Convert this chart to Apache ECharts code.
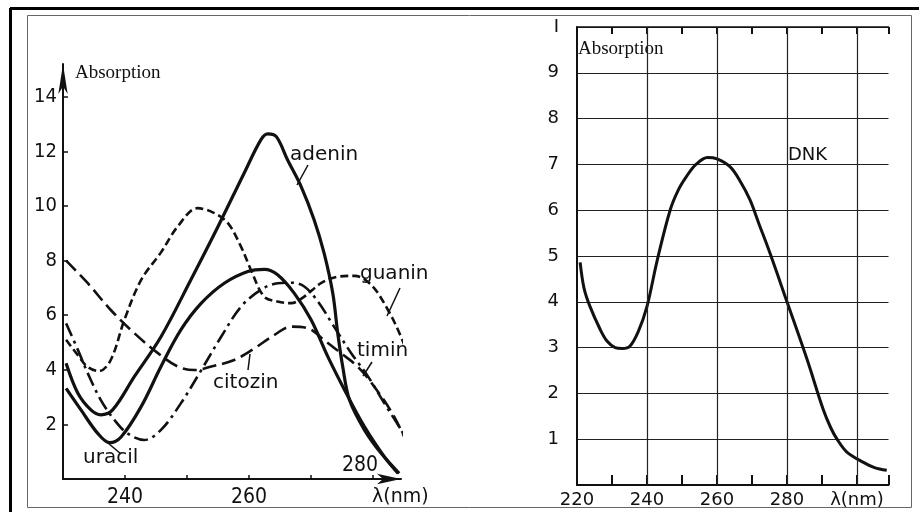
<!DOCTYPE html>
<html><head><meta charset="utf-8">
<script src="https://cdn.jsdelivr.net/npm/echarts@6/dist/echarts.min.js"></script>
<style>html,body{margin:0;padding:0;background:#fff}#c{width:919px;height:512px}</style>
</head><body><div id="c"></div>
<script>
// ---- Left chart: nucleobases ----
const adeninX = [230.5,232.4,234.5,236.1,238.0,241.5,245.8,250.6,255.0,259.2,261.9,263.0,264.4,266.2,268.4,270.5,272.1,273.5,274.3,275.1,276.2,278.6,281.3,284.2];
const adeninY = [4.24,3.14,2.53,2.35,2.53,3.75,5.21,7.29,9.25,11.2,12.42,12.64,12.54,11.69,10.71,9.49,8.27,6.80,5.34,4.12,2.89,1.80,0.94,0.21];
const uracilX = [230.5,232.9,235.6,237.5,239.4,242.6,245.8,249.0,252.3,256.0,259.8,262.5,264.6,267.3,270.0,272.7,275.4,278.6,281.8,284.0];
const uracilY = [3.32,2.53,1.67,1.33,1.55,2.65,4.12,5.46,6.44,7.17,7.60,7.68,7.48,6.80,5.83,4.48,3.26,1.92,0.82,0.21];
const guaninX = [230.5,232.5,234.0,235.8,237.7,239.9,242.6,245.8,248.5,251.7,254.4,256.6,258.7,260.3,262.4,264.6,266.8,268.9,271.6,274.3,277.0,279.7,282.4,284.5,286.1,286.9];
const guaninY = [5.10,4.50,4.10,3.95,4.36,5.83,7.29,8.30,9.25,9.92,9.74,9.37,8.51,7.66,6.69,6.50,6.44,6.68,7.17,7.41,7.44,7.11,6.19,5.21,4.24,3.63];
const citozinX = [230.5,234.0,237.7,241.5,245.3,248.5,251.2,253.9,257.6,260.9,264.1,266.8,269.5,272.1,274.8,277.5,280.2,283.4,287.0];
const citozinY = [8.00,7.17,6.19,5.34,4.61,4.12,3.99,4.12,4.36,4.79,5.28,5.58,5.52,5.09,4.61,4.12,3.38,2.28,0.57];
const timinX = [230.5,232.4,234.0,236.1,238.3,240.4,243.1,245.8,249.0,252.3,255.5,258.7,261.9,264.6,266.8,268.9,271.1,273.7,276.5,279.2,281.8,284.5,286.6];
const timinY = [5.70,4.73,3.87,2.89,2.16,1.67,1.43,1.80,2.77,3.99,5.21,6.31,6.93,7.17,7.19,7.05,6.50,5.58,4.60,3.75,2.78,1.80,0.95];
const leftXTicks = [240, 250, 260, 270, 280];
const leftXLabels = [240, 260];
const leftYTicks = [2, 4, 6, 8, 10, 12, 14];

// ---- Right chart: DNK ----
const dnkX = [220.9,222.0,223.7,226.6,228.5,230.9,233.0,235.1,237.5,240.0,242.9,246.6,249.0,251.4,254.0,257.3,260.0,263.7,266.5,269.4,272.0,275.1,280.0,285.7,290.3,292.5,294.3,297.1,301.7,305.0,308.5];
const dnkY = [4.86,4.30,3.90,3.40,3.15,3.00,2.98,3.03,3.35,3.90,4.90,6.00,6.45,6.75,7.00,7.15,7.12,6.95,6.65,6.23,5.70,5.07,4.00,2.75,1.66,1.25,1.00,0.72,0.50,0.38,0.32];
const rightXTicks = [220, 240, 260, 280];
const rightYTicks = [1, 2, 3, 4, 5, 6, 7, 8, 9];
const rightGridX = [240, 260, 280, 300];

const zip = (xs, ys) => xs.map((x, i) => [x, ys[i]]);
const INK = '#111';
const tickFont = '"DejaVu Sans Condensed", "DejaVu Sans", sans-serif';

const chart = echarts.init(document.getElementById('c'), null, {renderer: 'canvas'});

function curve(name, xs, ys, type, width) {
  return {
    name, type: 'line', xAxisIndex: 0, yAxisIndex: 0, data: zip(xs, ys),
    smooth: 0.35, showSymbol: false, symbol: 'none', clip: false, silent: true,
    lineStyle: {color: INK, width: width, type: type, cap: 'butt'}
  };
}

function txt(text, x, y, size, family, align) {
  return {type: 'text', x: x, y: y, silent: true,
    style: {text: text, fill: INK, font: size + 'px ' + family,
      textAlign: align || 'left', align: align || 'left',
      textVerticalAlign: 'middle', verticalAlign: 'middle'}};
}
function ln(x1, y1, x2, y2, w, c) {
  return {type: 'line', silent: true, shape: {x1, y1, x2, y2},
    style: {stroke: c || INK, lineWidth: w || 1.5}};
}

const labFam = '"DejaVu Sans", sans-serif';
const serif = '"Liberation Serif", "Times New Roman", serif';

const option = {
  animation: false,
  backgroundColor: '#fff',
  grid: [
    {left: 63, right: 518, top: 64, bottom: 33},
    {left: 577, right: 30.5, top: 27, bottom: 27}
  ],
  xAxis: [
    {gridIndex: 0, type: 'value', min: 230, max: 284.5, interval: 10,
      axisLine: {show: true, symbol: ['none', 'arrow'], symbolSize: [8, 24], lineStyle: {color: INK, width: 2}},
      axisTick: {show: true, inside: true, length: 4, customValues: leftXTicks, lineStyle: {color: INK, width: 1.5}},
      axisLabel: {margin: 8, color: INK, fontSize: 21, fontFamily: tickFont, customValues: leftXLabels,
        formatter: v => leftXLabels.includes(v) ? String(v) : ''},
      splitLine: {show: false}},
    {gridIndex: 1, type: 'value', min: 220, max: 309, interval: 10,
      axisLine: {show: true, onZero: false, lineStyle: {color: INK, width: 2}},
      axisTick: {show: true, inside: true, length: 10, lineStyle: {color: INK, width: 2}},
      axisLabel: {margin: 6, color: INK, fontSize: 18, fontFamily: labFam,
        formatter: v => rightXTicks.includes(v) ? String(v) : (v === 300 ? 'λ(nm)' : '')},
      splitLine: {show: false}},
    {gridIndex: 1, type: 'value', position: 'top', min: 220, max: 309, interval: 10,
      axisLine: {show: true, onZero: false, lineStyle: {color: INK, width: 1.5}},
      axisTick: {show: true, inside: true, length: 7, lineStyle: {color: INK, width: 2}},
      axisLabel: {show: false}, splitLine: {show: false}}
  ],
  yAxis: [
    {gridIndex: 0, type: 'value', min: 0, max: 15.2, interval: 2,
      axisLine: {show: true, symbol: ['none', 'arrow'], symbolSize: [7, 30], lineStyle: {color: INK, width: 2}},
      axisTick: {show: true, inside: true, length: 5, customValues: leftYTicks, lineStyle: {color: INK, width: 1.5}},
      axisLabel: {margin: 6, color: INK, fontSize: 20, fontFamily: tickFont, customValues: leftYTicks,
        formatter: v => leftYTicks.includes(v) ? String(v) : ''},
      splitLine: {show: false}},
    {gridIndex: 1, type: 'value', min: 0, max: 10, interval: 1,
      axisLine: {show: true, onZero: false, lineStyle: {color: INK, width: 2}},
      axisTick: {show: false},
      axisLabel: {margin: 18, color: INK, fontSize: 18, fontFamily: labFam,
        formatter: v => rightYTicks.includes(v) ? String(v) : (v === 10 ? 'I' : '')},
      splitLine: {show: true, lineStyle: {color: '#222', width: 1.2}}}
  ],
  series: [
    curve('adenin', adeninX, adeninY, 'solid', 3.2),
    curve('uracil', uracilX, uracilY, 'solid', 3.2),
    curve('guanin', guaninX, guaninY, [8, 4], 2.6),
    curve('citozin', citozinX, citozinY, [14, 6], 2.6),
    curve('timin', timinX, timinY, [14, 5, 3, 5], 2.6),
    {name: 'DNK', type: 'line', xAxisIndex: 1, yAxisIndex: 1, data: zip(dnkX, dnkY),
      smooth: 0.35, showSymbol: false, symbol: 'none', clip: false, silent: true,
      lineStyle: {color: INK, width: 3},
      markLine: {silent: true, symbol: 'none', label: {show: false},
        lineStyle: {color: '#222', width: 1.2, type: 'solid'},
        data: rightGridX.map(v => ({xAxis: v}))}}
  ],
  graphic: [
    ln(10, 8.5, 919, 8.5, 3, '#000'),
    ln(10.5, 8, 10.5, 512, 3, '#000'),
    {type: 'rect', silent: true, shape: {x: 27.5, y: 15.5, width: 884, height: 492},
      style: {fill: null, stroke: '#666', lineWidth: 1}},
    txt('Absorption', 75, 73, 19, serif),
    txt('Absorption', 578, 49, 19, serif),
    txt('adenin', 290, 155, 20, labFam),
    ln(308, 165, 297, 185),
    txt('guanin', 360, 274, 20, labFam),
    ln(400, 288, 387, 316),
    txt('timin', 357, 351, 20, labFam),
    ln(372, 362, 363, 376),
    txt('citozin', 213, 383, 20, labFam),
    ln(248, 370, 250, 354),
    txt('uracil', 83, 458, 20, labFam),
    ln(108, 443, 121, 454),
    txt('280', 342, 466, 21, tickFont),
    txt('λ(nm)', 372, 497, 19, labFam),
    txt('DNK', 788, 155, 18, labFam)
  ]
};
chart.setOption(option);
</script></body></html>
